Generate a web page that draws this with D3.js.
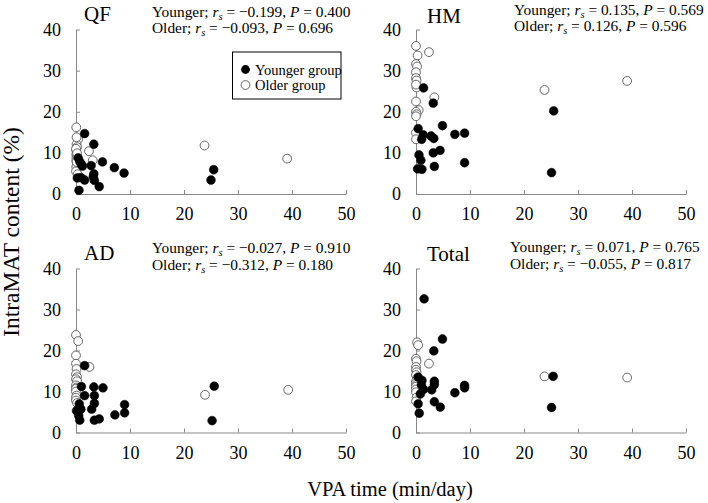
<!DOCTYPE html>
<html><head><meta charset="utf-8">
<script src="https://cdn.jsdelivr.net/npm/d3@7"></script>
<style>body{margin:0;background:#fff}svg{display:block}text{font-family:"Liberation Serif","Times New Roman",serif;fill:#000}</style>
</head><body><svg id="c" width="708" height="503"></svg>
<script>
const xTicks = [0, 10, 20, 30, 40, 50];
const yTicks = [0, 10, 20, 30, 40];
const panelNames = ["QF", "HM", "AD", "Total"];
const legendLabels = ["Younger group", "Older group"];
const statsYounger = [["\u22120.199", "0.400"], ["0.135", "0.569"], ["\u22120.027", "0.910"], ["0.071", "0.765"]];
const statsOlder = [["\u22120.093", "0.696"], ["0.126", "0.596"], ["\u22120.312", "0.180"], ["\u22120.055", "0.817"]];

const qfYounger = [[1.6,14.7],[3.3,12.1],[0.4,8.8],[0.7,7.9],[1.0,7.2],[1.2,6.8],[2.8,6.9],[4.9,7.8],[7.1,6.4],[8.9,5.1],[3.3,4.9],[3.2,4.2],[3.4,3.3],[4.3,1.8],[0.25,3.9],[0.9,4.0],[1.6,3.4],[0.55,0.9],[25.0,3.4],[25.5,5.9]];
const qfOlder = [[0.05,16.2],[0.4,13.3],[0.1,12.1],[0.2,11.4],[0.05,10.6],[0.05,9.6],[0.1,8.9],[0.05,8.2],[0.2,7.4],[0.05,6.6],[0.0,5.5],[0.3,4.8],[0.1,13.8],[0.0,11.0],[0.1,7.8],[0.2,9.9],[2.4,10.4],[3.1,8.2],[23.8,11.8],[39.1,8.6]];
const hmYounger = [[1.4,25.8],[3.2,22.1],[4.9,16.6],[0.4,15.9],[1.35,14.4],[1.05,13.3],[2.8,14.1],[3.3,13.5],[7.2,14.5],[9.0,14.8],[3.2,10.0],[4.45,10.6],[0.55,9.5],[0.9,8.2],[0.3,6.1],[1.1,6.0],[3.4,6.7],[9.0,7.6],[25.5,20.2],[25.1,5.2]];
const hmOlder = [[0.0,36.0],[2.4,34.5],[0.3,33.7],[0.0,31.6],[0.2,31.0],[0.0,29.6],[0.0,28.2],[0.1,27.6],[0.1,25.9],[0.0,26.6],[0.0,22.5],[3.4,23.5],[0.5,20.4],[0.0,20.0],[0.1,19.4],[0.0,18.9],[0.0,14.9],[0.0,13.3],[23.8,25.3],[39.1,27.5]];
const adYounger = [[1.6,16.3],[1.0,11.2],[3.3,11.1],[5.0,10.9],[1.6,9.0],[3.4,9.0],[3.4,7.1],[0.6,7.0],[0.9,5.7],[2.9,5.7],[0.1,5.3],[9.0,6.8],[9.0,4.8],[7.2,4.3],[0.5,4.1],[0.7,3.0],[3.4,3.0],[4.3,3.3],[25.6,11.3],[25.2,2.9]];
const adOlder = [[0.0,23.8],[0.4,22.3],[0.0,18.8],[0.0,16.8],[2.5,16.0],[0.1,15.5],[0.0,14.2],[0.2,13.5],[0.0,13.0],[0.2,12.5],[0.0,11.5],[0.1,11.0],[0.0,10.7],[0.0,10.0],[0.1,9.0],[0.0,8.5],[0.0,7.8],[0.2,7.2],[23.9,9.2],[39.3,10.4]];
const totalYounger = [[1.5,32.6],[4.9,22.8],[3.3,19.9],[0.4,13.5],[1.1,12.7],[3.4,12.5],[3.4,11.7],[1.0,11.6],[1.4,10.5],[2.9,10.4],[9.0,11.5],[9.0,10.9],[7.2,9.7],[0.8,9.4],[3.4,7.5],[4.5,6.2],[0.4,7.0],[0.6,4.7],[25.4,13.7],[25.1,6.1]];
const totalOlder = [[0.2,22.0],[0.4,21.3],[0.0,18.0],[0.1,17.4],[2.4,16.8],[0.0,16.0],[0.0,15.3],[0.1,14.7],[0.0,14.0],[0.2,13.2],[0.0,12.5],[0.0,12.0],[0.1,11.6],[0.0,11.2],[0.0,10.5],[0.0,9.8],[0.1,8.5],[0.0,7.6],[23.8,13.7],[39.1,13.4]];

const youngerSets = [qfYounger, hmYounger, adYounger, totalYounger];
const olderSets = [qfOlder, hmOlder, adOlder, totalOlder];

const svg = d3.select("#c");
const layout = [
  {x0:76, x1:346, y0:194, y1:29.5, tx:84, ty:21, sx:152, sy:16.5},
  {x0:416, x1:686, y0:194, y1:29.5, tx:427, ty:23, sx:514, sy:14.5},
  {x0:76, x1:346, y0:432.5, y1:268.5, tx:84, ty:260, sx:152, sy:253},
  {x0:416, x1:686, y0:432.5, y1:268.5, tx:427, ty:261, sx:510, sy:252}
];

layout.forEach((L, i) => {
  const x = d3.scaleLinear().domain([0, 50]).range([L.x0, L.x1]);
  const y = d3.scaleLinear().domain([0, 40]).range([L.y0, L.y1]);
  const g = svg.append("g");
  const xa = g.append("g").attr("transform", `translate(0,${L.y0})`)
    .call(d3.axisBottom(x).tickValues(xTicks).tickSizeInner(-4).tickSizeOuter(0).tickPadding(10));
  const ya = g.append("g").attr("transform", `translate(${L.x0},0)`)
    .call(d3.axisLeft(y).tickValues(yTicks).tickSizeInner(-4).tickSizeOuter(0).tickPadding(15));
  [xa, ya].forEach(a => {
    a.select(".domain").attr("stroke", "#888").attr("stroke-width", 1);
    a.selectAll(".tick line").attr("stroke", "#888");
    a.selectAll("text").style("font-family", '"Liberation Serif",serif').style("font-size", "18px").attr("fill", "#000");
  });
  xa.selectAll("text").attr("dy", "0.9em");
  g.append("text").attr("x", L.tx).attr("y", L.ty).style("font-size", "21px").text(panelNames[i]);

  const st = g.append("g").style("font-size", "15.4px");
  [["Younger; ", statsYounger[i]], ["Older; ", statsOlder[i]]].forEach((s, k) => {
    const t = st.append("text").attr("x", L.sx).attr("y", L.sy + k * 16.5);
    t.append("tspan").text(s[0]);
    t.append("tspan").style("font-style", "italic").text("r");
    t.append("tspan").attr("baseline-shift", "-3").style("font-size", "10.5px").style("font-style", "italic").text("s");
    t.append("tspan").text(" = " + s[1][0] + ", ");
    t.append("tspan").style("font-style", "italic").text("P");
    t.append("tspan").text(" = " + s[1][1]);
  });

  g.append("g").selectAll("circle").data(olderSets[i]).join("circle")
    .attr("cx", d => x(d[0])).attr("cy", d => y(d[1])).attr("r", 4.4)
    .attr("fill", "#fff").attr("stroke", "#555").attr("stroke-width", 0.9);
  g.append("g").selectAll("circle").data(youngerSets[i]).join("circle")
    .attr("cx", d => x(d[0])).attr("cy", d => y(d[1])).attr("r", 4.4)
    .attr("fill", "#000").attr("stroke", "#000").attr("stroke-width", 0.5);
});

// legend
const lg = svg.append("g");
lg.append("rect").attr("x", 232.5).attr("y", 52).attr("width", 108.5).attr("height", 47)
  .attr("fill", "#fff").attr("stroke", "#000").attr("stroke-width", 1);
lg.append("circle").attr("cx", 245.5).attr("cy", 69.5).attr("r", 4.4).attr("fill", "#000");
lg.append("circle").attr("cx", 245.5).attr("cy", 85).attr("r", 4.4).attr("fill", "#fff").attr("stroke", "#555").attr("stroke-width", 0.9);
lg.append("text").attr("x", 255).attr("y", 74.5).style("font-size", "14.5px").text(legendLabels[0]);
lg.append("text").attr("x", 255).attr("y", 90).style("font-size", "14.5px").text(legendLabels[1]);

// axis titles
svg.append("text").attr("x", 390).attr("y", 496).attr("text-anchor", "middle").style("font-size", "20.5px").text("VPA time (min/day)");
svg.append("text").attr("transform", "translate(19,232) rotate(-90)").attr("text-anchor", "middle").style("font-size", "23.5px").text("IntraMAT content (%)");
</script></body></html>
